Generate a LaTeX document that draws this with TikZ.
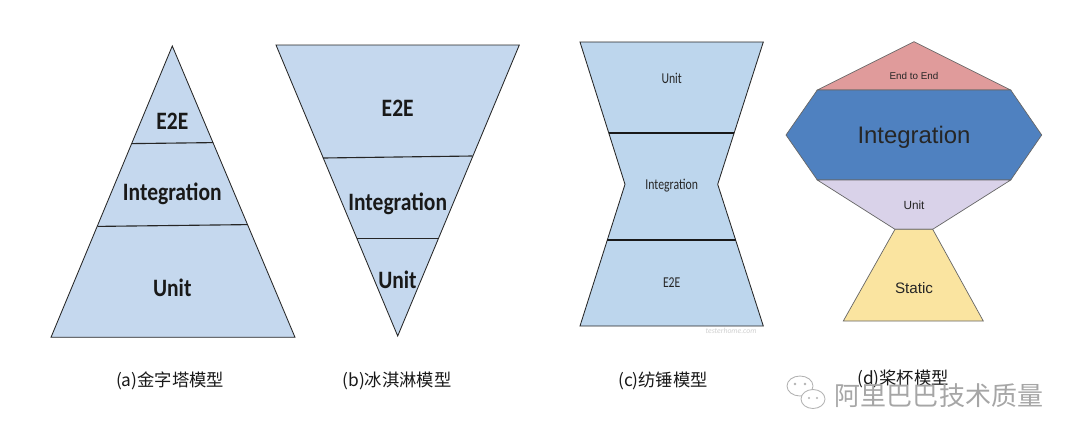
\documentclass[tikz,border=0pt]{standalone}
\usepackage{fontspec}
\setmainfont{Carlito}
\newfontfamily\arialf{Liberation Sans}
\newfontfamily\cjkf{Noto Sans CJK SC}
\definecolor{pyrblue}{RGB}{197,216,238}
\definecolor{spinblue}{RGB}{189,214,237}
\definecolor{e2epink}{RGB}{224,155,155}
\definecolor{intblue}{RGB}{79,129,192}
\definecolor{unitlav}{RGB}{217,210,233}
\definecolor{statyel}{RGB}{250,228,160}
\begin{document}
\begin{tikzpicture}[x=0.025cm,y=-0.025cm,
  shapeline/.style={draw=black!85,line width=0.6pt,line join=miter},
  divline/.style={draw=black!85,line width=0.8pt},
  thickdiv/.style={draw=black!90,line width=1.4pt},
  dline/.style={draw=black!60,line width=0.5pt},
  boldlab/.style={font=\bfseries\fontsize{17.8}{20}\selectfont,xscale=0.86,inner sep=0pt,text height=0.63em,text depth=0pt,text=black!90},
  spinlab/.style={font=\fontsize{10.7}{12}\selectfont,xscale=0.78,inner sep=0pt,text height=0.63em,text depth=0pt,text=black!85},
  alab/.style={font=\arialf,inner sep=0pt,text height=0.72em,text depth=0pt,text=black!85},
  caplab/.style={font=\cjkf\fontsize{12.3}{14}\selectfont,inner sep=0pt,text=black!90},
]
\path[use as bounding box,fill=white] (0,0) rectangle (1080,443);

% (a) pyramid
\path[shapeline,fill=pyrblue] (172.3,46) -- (295,337.3) -- (51,337.3) -- cycle;
\draw[divline] (131.9,143.6) -- (213.2,142.6);
\draw[divline] (97.6,226.4) -- (247.9,224.6);
\node[boldlab] (a1) at (172.3,125) {E2E};
\node[boldlab] (a2) at (172.3,196) {Integration};
\node[boldlab] (a3) at (172.3,292.5) {Unit};

% (b) ice cream cone
\path[shapeline,fill=pyrblue] (276,45) -- (519.3,45) -- (397.7,336) -- cycle;
\draw[divline] (322.8,158) -- (472.5,156);
\draw[divline] (357,238.7) -- (438.4,238.7);
\node[boldlab] (b1) at (397.7,112.5) {E2E};
\node[boldlab] (b2) at (397.7,206.5) {Integration};
\node[boldlab] (b3) at (397.5,284) {Unit};

% (c) spindle
\path[shapeline,fill=spinblue] (580,42) -- (763.3,42) -- (717.7,184.3) -- (763.3,326) -- (580,326) -- (625,184.3) -- cycle;
\draw[thickdiv] (608.9,133.3) -- (734.0,133.3);
\draw[thickdiv] (607.3,240) -- (735.6,240);
\node[spinlab] (c1) at (671.7,79.5) {Unit};
\node[spinlab] (c2) at (671.7,185.5) {Integration};
\node[spinlab] (c3) at (671.7,283) {E2E};
\node[font=\itshape\fontsize{5.5}{6}\selectfont,text=black!18,inner sep=0pt] (wm1) at (731,331) {testerhome.com};

% (d) paddle cup
\path[dline,fill=e2epink] (914,41.7) -- (1010.7,90) -- (817.3,90) -- cycle;
\path[dline,fill=intblue] (817.3,90) -- (1010.7,90) -- (1041.7,135) -- (1010.7,180) -- (817.3,180) -- (786,135) -- cycle;
\path[dline,fill=unitlav] (817.3,180) -- (1010.7,180) -- (932.7,229.3) -- (895,229.3) -- cycle;
\path[dline,fill=statyel] (895,229.3) -- (932.7,229.3) -- (983.3,321) -- (843.3,321) -- cycle;
\node[alab,font=\arialf\fontsize{7}{8}\selectfont] (d1) at (914,74) {End to End};
\node[alab,font=\arialf\fontsize{17}{19}\selectfont] (d2) at (914,138.5) {Integration};
\node[alab,font=\arialf\fontsize{8.4}{10}\selectfont] (d3) at (914,204) {Unit};
\node[alab,font=\arialf\fontsize{10.8}{12}\selectfont] (d4) at (914,288) {Static};

% captions
\node[caplab] (capa) at (170,380.5) {(a)金字塔模型};
\node[caplab] (capb) at (397,380.5) {(b)冰淇淋模型};
\node[caplab] (capc) at (663,380.5) {(c)纺锤模型};
\node[caplab] (capd) at (903,378.5) {(d)桨杯模型};

% watermark
\begin{scope}[draw=black!30,line width=0.6pt]
  \draw[fill=white] (800,386) ellipse (13 and 10);
  \fill[black!30] (795,384) circle (1.4) (805,384) circle (1.4);
  \draw[fill=white] (813,399) ellipse (12 and 9.5);
  \fill[black!30] (809,398) circle (1.2) (817,398) circle (1.2);
\end{scope}
\node[font=\cjkf\fontsize{18.5}{20}\selectfont,text=black!35,inner sep=0pt] (wm2) at (939,396) {阿里巴巴技术质量};
\end{tikzpicture}
\end{document}
